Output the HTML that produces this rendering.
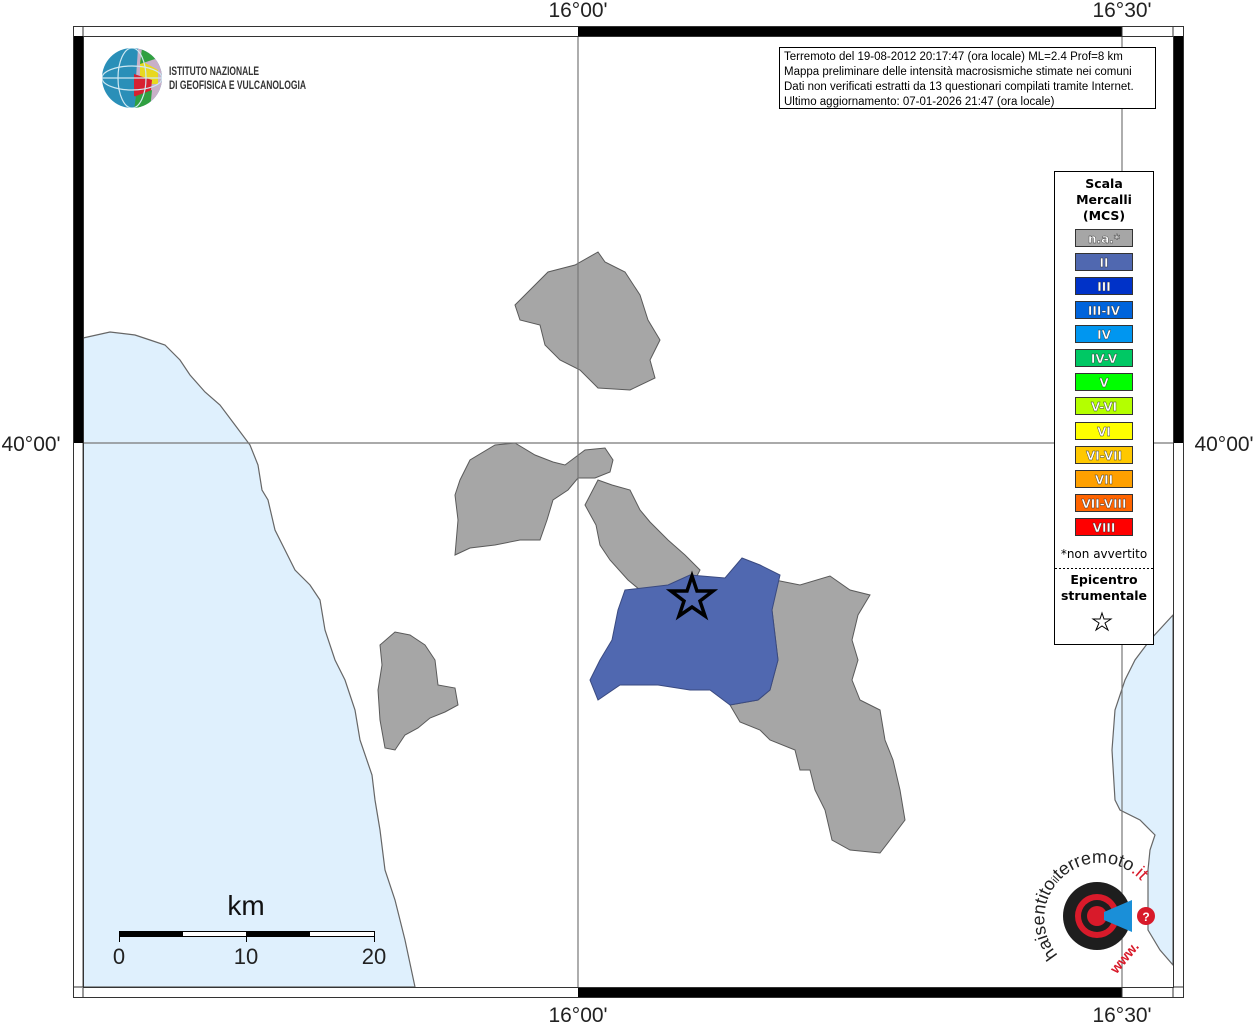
<!DOCTYPE html>
<html><head><meta charset="utf-8"><style>
body{margin:0;background:#fff;width:1256px;height:1024px;overflow:hidden}
svg{display:block;font-family:"Liberation Sans","DejaVu Sans",sans-serif}
</style></head><body>
<svg width="1256" height="1024" viewBox="0 0 1256 1024" xmlns="http://www.w3.org/2000/svg">
<rect width="1256" height="1024" fill="#fff"/>
<polygon fill="#dff0fd" stroke="#666" stroke-width="1.2" points="83,338 110,332 135,335 150,340 165,345 180,360 190,375 205,392 220,405 235,425 250,445 258,465 262,490 268,500 275,530 285,550 295,570 310,585 320,600 325,630 335,660 345,680 355,710 360,740 372,775 375,800 380,830 385,870 395,900 405,940 415,987 83,987"/>
<polygon fill="#dff0fd" stroke="#666" stroke-width="1.2" points="1173,615 1150,640 1135,660 1125,680 1115,710 1112,750 1115,800 1120,810 1140,820 1155,835 1150,850 1148,870 1148,930 1160,950 1173,965"/>
<g fill="#a6a6a6" stroke="#5a5a5a" stroke-width="1">
<polygon points="515,305 548,272 575,265 598,252 605,262 625,272 640,295 648,320 660,340 650,360 655,378 630,390 598,388 580,370 560,360 545,345 540,325 520,320"/>
<polygon points="460,480 470,460 495,445 515,443 535,455 553,462 565,465 585,450 605,448 613,460 610,472 595,478 578,478 568,490 553,500 547,520 540,540 520,540 495,545 470,548 455,555 458,520 455,495"/>
<polygon points="585,505 598,480 612,485 630,490 640,510 650,522 668,540 685,555 700,570 690,590 640,590 628,580 610,560 600,545 596,525"/>
<polygon points="775,580 800,585 830,576 850,590 870,595 858,615 852,640 858,660 852,680 860,700 880,710 885,740 893,760 900,790 905,820 890,840 880,853 850,850 832,840 825,810 815,790 810,770 800,770 795,750 770,740 760,730 740,722 730,705 758,700 770,690 778,660 772,610"/>
<polygon points="380,645 395,632 410,635 425,645 435,660 438,685 455,688 458,705 445,712 430,718 418,728 405,735 395,750 385,748 380,720 378,690 382,665"/>
</g>
<polygon fill="#5068b0" stroke="#3a4a80" stroke-width="1" points="625,590 668,585 690,575 725,578 742,558 760,565 780,575 772,610 778,660 770,690 758,700 730,705 710,690 690,690 658,685 620,685 598,700 590,680 600,660 612,640 618,610"/>
<g stroke="#777" stroke-width="1.2">
<line x1="578" y1="36" x2="578" y2="987"/><line x1="1122" y1="36" x2="1122" y2="987"/><line x1="83" y1="443" x2="1173" y2="443"/>
</g>
<polygon fill="none" stroke="#000" stroke-width="3.5" points="692,576 697,591 713,591 700,601 705,616 692,607 679,616 684,601 671,591 687,591"/>
<rect x="73.5" y="26.5" width="1110" height="971" fill="none" stroke="#333" stroke-width="1"/>
<rect x="83.5" y="36.5" width="1090" height="951" fill="none" stroke="#333" stroke-width="1"/>
<rect x="578" y="27" width="544" height="9" fill="#000"/>
<rect x="578" y="988" width="544" height="9" fill="#000"/>
<rect x="74" y="36" width="9" height="407" fill="#000"/>
<rect x="1174" y="36" width="9" height="407" fill="#000"/>
<line x1="83" y1="27" x2="83" y2="36" stroke="#333"/><line x1="1173" y1="27" x2="1173" y2="36" stroke="#333"/>
<line x1="83" y1="988" x2="83" y2="997" stroke="#333"/><line x1="1173" y1="988" x2="1173" y2="997" stroke="#333"/>
<line x1="1122" y1="27" x2="1122" y2="36" stroke="#333"/><line x1="1122" y1="988" x2="1122" y2="997" stroke="#333"/>
<line x1="74" y1="987" x2="83" y2="987" stroke="#333"/><line x1="1174" y1="987" x2="1183" y2="987" stroke="#333"/>
<g font-size="21" fill="#222" text-anchor="middle">
<text x="578" y="17">16°00'</text><text x="1122" y="17">16°30'</text>
<text x="578" y="1022">16°00'</text><text x="1122" y="1022">16°30'</text>
<text x="31" y="451">40°00'</text><text x="1224" y="451">40°00'</text>
</g>
<!-- INGV logo -->
<clipPath id="gc"><circle cx="132" cy="78" r="30"/></clipPath>
<g clip-path="url(#gc)">
<rect x="100" y="46" width="64" height="64" fill="#2a8fb8"/>
<polygon points="138,48 165,60 165,100 140,110 136,78" fill="#c8b0c8"/>
<polygon points="140,60 158,70 158,84 140,84" fill="#e8d820"/>
<polygon points="134,74 152,80 150,100 134,96" fill="#d82030"/>
<polygon points="142,48 158,58 140,64" fill="#30a040"/>
<polygon points="136,96 152,90 150,110 134,110" fill="#30a040"/>
<g fill="none" stroke="#cfe8f2" stroke-width="1.2">
<ellipse cx="132" cy="78" rx="14" ry="30"/><ellipse cx="132" cy="78" rx="30" ry="12"/><line x1="102" y1="78" x2="162" y2="78"/>
</g>
</g>
<g fill="#333" font-size="12" font-weight="bold">
<text x="169" y="75" textLength="90" lengthAdjust="spacingAndGlyphs">ISTITUTO NAZIONALE</text>
<text x="169" y="89" textLength="137" lengthAdjust="spacingAndGlyphs">DI GEOFISICA E VULCANOLOGIA</text>
</g>
<rect x="779.5" y="47.5" width="376" height="61" fill="#fff" stroke="#000"/>
<g font-size="11.5" fill="#000">
<text x="784" y="60">Terremoto del 19-08-2012 20:17:47 (ora locale) ML=2.4 Prof=8 km</text>
<text x="784" y="75">Mappa preliminare delle intensità macrosismiche stimate nei comuni</text>
<text x="784" y="90">Dati non verificati estratti da 13 questionari compilati tramite Internet.</text>
<text x="784" y="105">Ultimo aggiornamento: 07-01-2026 21:47 (ora locale)</text>
</g>
<rect x="1054.5" y="171.5" width="99" height="473" fill="#fff" stroke="#000"/>
<g font-size="12.5" font-weight="bold" text-anchor="middle" font-family="'DejaVu Sans',sans-serif" fill="#000">
<text x="1104" y="188">Scala</text><text x="1104" y="204">Mercalli</text><text x="1104" y="220">(MCS)</text>
</g>
<g stroke="#333" stroke-width="1">
<rect x="1075.5" y="229.5" width="57" height="17" fill="#a6a6a6"/>
<rect x="1075.5" y="253.5" width="57" height="17" fill="#5068b0"/>
<rect x="1075.5" y="277.5" width="57" height="17" fill="#0032c8"/>
<rect x="1075.5" y="301.5" width="57" height="17" fill="#0064dc"/>
<rect x="1075.5" y="325.5" width="57" height="17" fill="#0096f0"/>
<rect x="1075.5" y="349.5" width="57" height="17" fill="#00c864"/>
<rect x="1075.5" y="373.5" width="57" height="17" fill="#00ff00"/>
<rect x="1075.5" y="397.5" width="57" height="17" fill="#b4ff00"/>
<rect x="1075.5" y="422.5" width="57" height="17" fill="#ffff00"/>
<rect x="1075.5" y="446.5" width="57" height="17" fill="#ffc800"/>
<rect x="1075.5" y="470.5" width="57" height="17" fill="#ffa000"/>
<rect x="1075.5" y="494.5" width="57" height="17" fill="#ff6400"/>
<rect x="1075.5" y="518.5" width="57" height="17" fill="#ff0000"/>
</g>
<g font-size="12" font-weight="bold" text-anchor="middle" font-family="'DejaVu Sans',sans-serif" fill="#fff" stroke="#333" stroke-width="0.4">
<text x="1104" y="243">n.a.*</text><text x="1104" y="267">II</text><text x="1104" y="291">III</text><text x="1104" y="315">III-IV</text><text x="1104" y="339">IV</text><text x="1104" y="363">IV-V</text><text x="1104" y="387">V</text><text x="1104" y="411">V-VI</text><text x="1104" y="436">VI</text><text x="1104" y="460">VI-VII</text><text x="1104" y="484">VII</text><text x="1104" y="508">VII-VIII</text><text x="1104" y="532">VIII</text>
</g>
<text x="1104" y="558" font-size="12" text-anchor="middle" font-family="'DejaVu Sans',sans-serif">*non avvertito</text>
<line x1="1055" y1="568.5" x2="1153" y2="568.5" stroke="#000" stroke-dasharray="2,2"/>
<g font-size="12.5" font-weight="bold" text-anchor="middle" font-family="'DejaVu Sans',sans-serif">
<text x="1104" y="584">Epicentro</text><text x="1104" y="600">strumentale</text>
</g>
<polygon fill="none" stroke="#000" stroke-width="1" points="1102,613 1104,619 1111,619 1105,623 1108,630 1102,626 1096,630 1099,623 1093,619 1100,619"/>
<text x="246" y="915" font-size="28" text-anchor="middle" fill="#111">km</text>
<rect x="119.5" y="931.5" width="255" height="5" fill="#fff" stroke="#000"/>
<rect x="119" y="931" width="64" height="6" fill="#000"/><rect x="246" y="931" width="64" height="6" fill="#000"/>
<g stroke="#000"><line x1="119.5" y1="931" x2="119.5" y2="942"/><line x1="246.5" y1="931" x2="246.5" y2="942"/><line x1="374.5" y1="931" x2="374.5" y2="942"/></g>
<g font-size="22" text-anchor="middle" fill="#222"><text x="119" y="964">0</text><text x="246" y="964">10</text><text x="374" y="964">20</text></g>
<circle cx="1097" cy="916" r="34" fill="#1e1e1e"/>
<circle cx="1097" cy="916" r="22" fill="#d81a2a"/>
<circle cx="1097" cy="916" r="16" fill="#1e1e1e"/>
<circle cx="1097" cy="916" r="10" fill="#d81a2a"/>
<polygon points="1104,912 1132,900 1132,932 1104,920" fill="#1a8fd8"/>
<circle cx="1146" cy="916" r="9" fill="#d81a2a"/>
<text x="1146" y="921" font-size="12" fill="#fff" text-anchor="middle" font-weight="bold">?</text>
<path id="arc" d="M1058,955 A48,48 0 1 1 1142,882" fill="none"/>
<text font-size="18" fill="#222"><textPath href="#arc">haisentito<tspan font-size="11">il</tspan>terremoto<tspan fill="#d81a2a">.it</tspan></textPath></text>
<text x="1125" y="962" font-size="14" fill="#d81a2a" text-anchor="middle" font-weight="bold" transform="rotate(-50 1125 958)">www.</text>
</svg>
</body></html>
